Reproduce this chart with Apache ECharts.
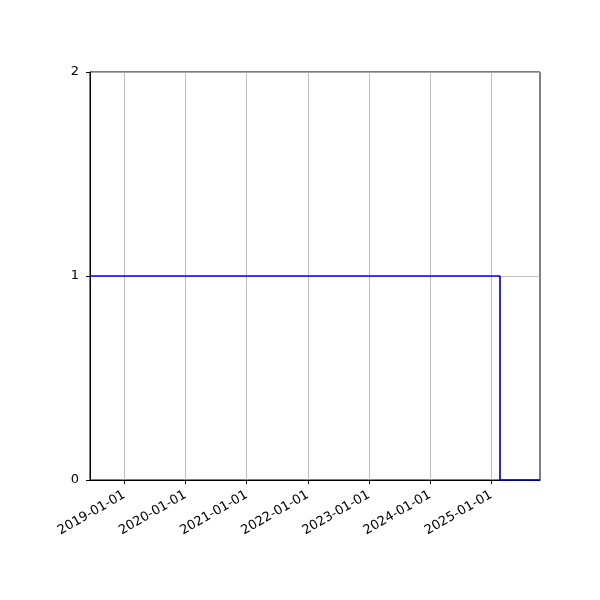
<!DOCTYPE html>
<html><head><meta charset="utf-8">
<script src="https://cdn.jsdelivr.net/npm/echarts@6/dist/echarts.min.js"></script>
<style>html,body{margin:0;padding:0;background:#fff}#c{width:600px;height:600px}</style>
</head><body><div id="c"></div>
<script>
var dates = ['2018-06-10', '2025-02-22', '2025-10-19'];
var values = [1, 0, 0];
var tickLabels = ['2019-01-01','2020-01-01','2021-01-01','2022-01-01','2023-01-01','2024-01-01','2025-01-01'];
var yTicks = [0, 1, 2];

function ts(s){ return new Date(s + 'T00:00:00Z').getTime(); }
var tickVals = tickLabels.map(ts);
var chart = echarts.init(document.getElementById('c'), null, {renderer:'canvas'});
chart.setOption({
  animation:false,
  grid:{left:90, top:72, width:450, height:408, show:true, borderColor:'#000', borderWidth:1, backgroundColor:'transparent'},
  xAxis:{
    type:'value', min:ts(dates[0]), max:ts(dates[2]),
    axisLine:{show:true, onZero:false, lineStyle:{color:'#000', width:1}},
    axisTick:{show:true, customValues:tickVals, length:4, lineStyle:{color:'#000'}},
    axisLabel:{customValues:tickVals, rotate:30, color:'#000', fontFamily:'DejaVu Sans', fontSize:13, margin:14,
      formatter:function(v){ var d=new Date(v); return d.toISOString().slice(0,10); }},
    splitLine:{show:false}
  },
  yAxis:{
    type:'value', min:yTicks[0], max:yTicks[yTicks.length-1], interval:1,
    axisLine:{show:true, lineStyle:{color:'#000', width:1}},
    axisTick:{show:true, length:4, lineStyle:{color:'#000'}},
    axisLabel:{color:'#000', fontFamily:'DejaVu Sans', fontSize:13, margin:11},
    splitLine:{show:true, lineStyle:{color:'#b0b0b0', width:0.8}}
  },
  series:[{
    type:'line', step:'end', symbol:'none',
    data: dates.map(function(d,i){ return [ts(d), values[i]]; }),
    lineStyle:{color:'#0000ff', width:1.7},
    markLine:{silent:true, symbol:'none', label:{show:false},
      lineStyle:{color:'#b0b0b0', width:0.8, type:'solid'},
      data: tickVals.map(function(v){ return {xAxis:v}; }), z:1},
    z:3
  }]
});
</script></body></html>
